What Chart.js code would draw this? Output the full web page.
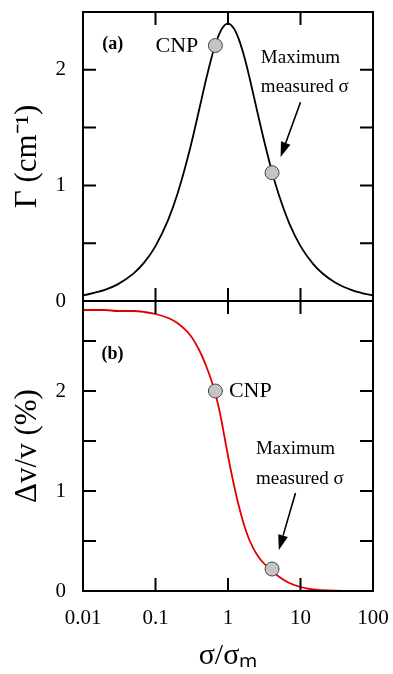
<!DOCTYPE html>
<html>
<head>
<meta charset="utf-8">
<script src="https://cdn.jsdelivr.net/npm/chart.js@4.4.0/dist/chart.umd.min.js"></script>
<style>
body { margin: 0; background: #fff; }
#wrap { position: relative; width: 393px; height: 674px; }
canvas { position: absolute; left: 0; }
</style>
</head>
<body>
<div id="wrap">
  <canvas id="gammaChart" width="393" height="325" style="top:0px"></canvas>
  <canvas id="dvChart" width="393" height="384" style="top:290px"></canvas>
</div>
<script>
// values
const sigmaRatio = [0.01, 0.02, 0.03, 0.05, 0.07, 0.1, 0.15, 0.2, 0.3, 0.4, 0.5, 0.6, 0.7, 0.8, 0.9, 1,
                    1.2, 1.4, 1.7, 2, 2.5, 3, 4, 5, 7, 10, 15, 20, 30, 50, 70, 100];
const gammaValues = [0.048, 0.096, 0.144, 0.239, 0.334, 0.475, 0.704, 0.923, 1.32, 1.655, 1.92, 2.118, 2.255, 2.341, 2.387, 2.40,
                     2.36, 2.27, 2.10, 1.92, 1.655, 1.44, 1.129, 0.923, 0.672, 0.475, 0.319, 0.24, 0.16, 0.096, 0.069, 0.048];
const dvValues = [2.81, 2.81, 2.80, 2.80, 2.79, 2.77, 2.73, 2.68, 2.56, 2.41, 2.25, 2.09, 1.92, 1.73, 1.53, 1.35,
                  1.07, 0.86, 0.64, 0.50, 0.365, 0.29, 0.205, 0.145, 0.08, 0.04, 0.015, 0.008, 0.003, 0.001, 0, 0];
const markerSigma = [0.67, 4.05];
const markerGamma = [2.21, 1.11];
const markerDv = [2.0, 0.22];
const xTickValues = [0.01, 0.1, 1, 10, 100];
const xTickLabels = ['0.01', '0.1', '1', '10', '100'];

const serif = '"Liberation Serif", "Times New Roman", serif';
const tickLen = 13;

function drawArrow(ctx, x1, y1, x2, y2) {
  const ang = Math.atan2(y2 - y1, x2 - x1);
  const len = 15, half = 5;
  const bx = x2 - len * Math.cos(ang), by = y2 - len * Math.sin(ang);
  ctx.beginPath();
  ctx.moveTo(x1, y1);
  ctx.lineTo(bx, by);
  ctx.lineWidth = 1.6;
  ctx.stroke();
  ctx.beginPath();
  ctx.moveTo(x2, y2);
  ctx.lineTo(bx + half * Math.sin(ang), by - half * Math.cos(ang));
  ctx.lineTo(bx - half * Math.sin(ang), by + half * Math.cos(ang));
  ctx.closePath();
  ctx.fill();
}

// frame, inward ticks and the text notes of one panel
function panelDecor(notes, arrow) {
  return {
    id: 'panelDecor',
    afterDatasetsDraw(chart) {
      const { ctx, chartArea: a, scales } = chart;
      const xs = scales.x, ys = scales.y;
      ctx.save();
      ctx.strokeStyle = '#000';
      ctx.fillStyle = '#000';
      ctx.lineWidth = 2;
      ctx.strokeRect(a.left, a.top, a.right - a.left, a.bottom - a.top);
      ctx.beginPath();
      xTickValues.slice(1, -1).forEach(v => {
        const px = xs.getPixelForValue(v);
        ctx.moveTo(px, a.top); ctx.lineTo(px, a.top + tickLen);
        ctx.moveTo(px, a.bottom); ctx.lineTo(px, a.bottom - tickLen);
      });
      ys.ticks.forEach(t => {
        const v = t.value;
        if (v <= ys.min || v >= ys.max || Math.abs(v * 2 - Math.round(v * 2)) > 1e-6) return;
        const py = ys.getPixelForValue(v);
        ctx.moveTo(a.left, py); ctx.lineTo(a.left + tickLen, py);
        ctx.moveTo(a.right, py); ctx.lineTo(a.right - tickLen, py);
      });
      ctx.stroke();

      ctx.textBaseline = 'middle';
      notes.forEach(n => {
        ctx.font = n.font;
        ctx.textAlign = n.align || 'left';
        ctx.fillText(n.text, xs.getPixelForValue(n.x), ys.getPixelForValue(n.y));
      });
      drawArrow(ctx,
        xs.getPixelForValue(arrow[0]), ys.getPixelForValue(arrow[1]),
        xs.getPixelForValue(arrow[2]), ys.getPixelForValue(arrow[3]));
      ctx.restore();
    }
  };
}

function xAxis(show) {
  return {
    type: 'logarithmic', min: 0.01, max: 100, display: show,
    afterBuildTicks: s => { s.ticks = xTickValues.map(v => ({ value: v })); },
    afterFit: s => {
      s.height = show ? 83 : 0;
      s.paddingLeft = 0;
      s.paddingRight = 0;
    },
    grid: { display: false, drawTicks: false },
    border: { display: false },
    ticks: {
      autoSkip: false, maxRotation: 0, padding: 15, color: '#000',
      font: { family: serif, size: 21 },
      callback: (v, i) => xTickLabels[i]
    },
    title: { display: show, text: 'σ/σₘ', color: '#000', font: { family: serif, size: 30 }, padding: { top: 0, bottom: 0 } }
  };
}

function yAxis(max, title) {
  return {
    min: 0, max: max,
    afterFit: s => {
      s.width = 83;
      s.paddingTop = 0;
      s.paddingBottom = 0;
    },
    grid: { display: false, drawTicks: false },
    border: { display: false },
    ticks: {
      stepSize: 0.5, autoSkip: false, padding: 17, color: '#000',
      font: { family: serif, size: 21 },
      callback: v => Number.isInteger(v) ? v : ''
    },
    title: { display: true, text: title, color: '#000', font: { family: serif, size: 31 }, padding: { top: 9, bottom: 0 } }
  };
}

function markerSet(yVals) {
  return {
    data: markerSigma.map((s, i) => ({ x: s, y: yVals[i] })),
    pointRadius: 7, pointBackgroundColor: '#c4c4c4',
    pointBorderColor: '#444', pointBorderWidth: 1, showLine: false
  };
}

function curveSet(yVals, color) {
  return {
    data: sigmaRatio.map((s, i) => ({ x: s, y: yVals[i] })),
    showLine: true, borderColor: color, borderWidth: 1.8,
    pointRadius: 0, cubicInterpolationMode: 'monotone'
  };
}

const common = {
  responsive: false, animation: false, devicePixelRatio: 1,
  events: [],
  plugins: { legend: { display: false }, tooltip: { enabled: false } }
};

new Chart(document.getElementById('gammaChart'), {
  type: 'scatter',
  data: { datasets: [markerSet(markerGamma), curveSet(gammaValues, '#000')] },
  options: {
    ...common,
    layout: { autoPadding: false, padding: { top: 12, right: 20, bottom: 24, left: 0 } },
    scales: { x: xAxis(false), y: yAxis(2.5, 'Γ (cm⁻¹)') }
  },
  plugins: [panelDecor([
    { text: '(a)', x: 0.0185, y: 2.22, font: 'bold 18px ' + serif },
    { text: 'CNP', x: 0.39, y: 2.2, align: 'right', font: '22px ' + serif },
    { text: 'Maximum', x: 2.84, y: 2.10, font: '19px ' + serif },
    { text: 'measured σ', x: 2.84, y: 1.85, font: '19px ' + serif }
  ], [10.0, 1.72, 5.31, 1.245])]
});

new Chart(document.getElementById('dvChart'), {
  type: 'scatter',
  data: { datasets: [markerSet(markerDv), curveSet(dvValues, '#e00000')] },
  options: {
    ...common,
    layout: { autoPadding: false, padding: { top: 11, right: 20, bottom: 0, left: 0 } },
    scales: { x: xAxis(true), y: yAxis(2.9, 'Δv/v (%)') }
  },
  plugins: [panelDecor([
    { text: '(b)', x: 0.018, y: 2.37, font: 'bold 18px ' + serif },
    { text: 'CNP', x: 1.03, y: 2.0, font: '22px ' + serif },
    { text: 'Maximum', x: 2.43, y: 1.42, font: '19px ' + serif },
    { text: 'measured σ', x: 2.43, y: 1.12, font: '19px ' + serif }
  ], [8.53, 0.98, 5.03, 0.41])]
});
</script>
</body>
</html>
